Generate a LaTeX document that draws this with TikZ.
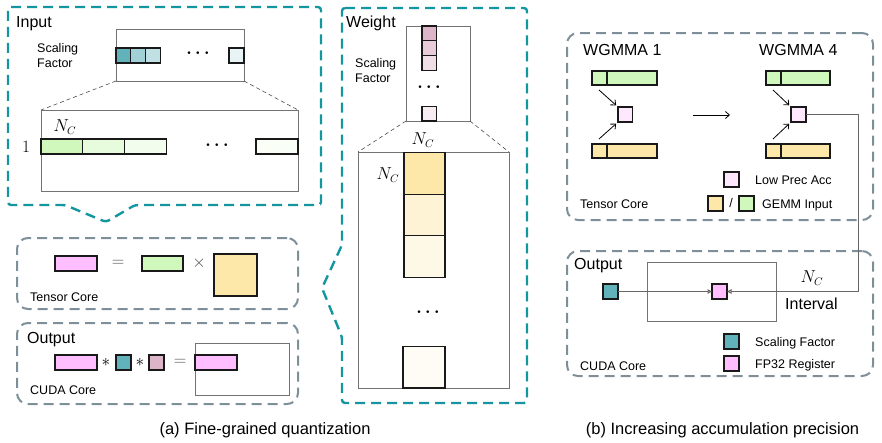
\documentclass[tikz,border=0pt]{standalone}
\usepackage[no-math]{fontspec}
\setmainfont{Liberation Sans}
\usepackage{tikz}
\usepackage{xcolor}
\usetikzlibrary{arrows.meta}

\definecolor{qteal}{RGB}{20,150,160}
\definecolor{qgray}{RGB}{125,143,153}
\definecolor{sfteal}{RGB}{98,178,187}
\definecolor{fppink}{RGB}{255,190,255}
\definecolor{lppink}{RGB}{253,232,253}
\definecolor{gemgreen}{RGB}{208,247,188}
\definecolor{gemyellow}{RGB}{253,232,170}
\definecolor{wmauve}{RGB}{221,181,201}

\tikzset{
	cell/.style={draw=black!90, line width=1.1pt, fill=#1, inner sep=0pt, outer sep=0pt, anchor=north west},
	frame/.style={draw=black!55, line width=0.9pt, inner sep=0pt, outer sep=0pt, anchor=north west},
	qbox/.style={draw=qteal, line width=2.4pt, dash pattern=on 10pt off 6pt, rounded corners=3pt},
	corebox/.style={draw=qgray, line width=2pt, dash pattern=on 10pt off 6pt, rounded corners=11pt, inner sep=0pt, outer sep=0pt, anchor=north west},
	zoomline/.style={draw=black!70, line width=0.6pt, dash pattern=on 4pt off 3pt},
	lbl/.style={font=\fontsize{16}{19}\selectfont, inner sep=0pt, anchor=base west},
	small/.style={font=\fontsize{12.5}{15}\selectfont, inner sep=0pt, anchor=base west},
	mathlbl/.style={font=\fontsize{16}{19}\selectfont, inner sep=0pt},
	dots/.style={font=\fontsize{16}{19}\selectfont\boldmath, inner sep=0pt},
	oplbl/.style={font=\fontsize{16}{19}\selectfont, inner sep=0pt, text=black!70},
	flow/.style={draw=black, line width=0.8pt, -{Straight Barb[length=4pt, width=7pt]}},
	feed/.style={draw=black!60, line width=1pt, -{Triangle[open, length=4.5pt, width=4.5pt]}}
}

\begin{document}
\begin{tikzpicture}[x=1pt,y=-1pt]
	\useasboundingbox (0,0) rectangle (882,442);

	\draw[qbox] (8,7) -- (321,7) -- (321,205) -- (135,205) -- (106,222) -- (65,205) -- (8,205) -- cycle;
	\node[lbl] (intitle) at (16,27) {Input};
	\node[frame, minimum width=128pt, minimum height=52pt] (isf) at (116,29) {};
	\node[small, anchor=west, align=left] (isflbl) at (37,55.5) {Scaling\\Factor};
	\node[cell=sfteal, minimum width=14.7pt, minimum height=15pt] (isf1) at (116,48) {};
	\node[cell=sfteal!60, minimum width=14.7pt, minimum height=15pt] (isf2) at (isf1.north east) {};
	\node[cell=sfteal!40, minimum width=14.7pt, minimum height=15pt] (isf3) at (isf2.north east) {};
	\node[cell=sfteal!15, minimum width=15pt, minimum height=15pt] (isf4) at (229,48) {};
	\node[dots] (isfdots) at (198,53) {$\cdots$};
	\node[frame, minimum width=257pt, minimum height=81pt] (ibig) at (41,110) {};
	\draw[zoomline] (isf.south west) -- (ibig.north west);
	\draw[zoomline] (isf.south east) -- (ibig.north east);
	\node[cell=gemgreen, minimum width=41.7pt, minimum height=15pt] (ig1) at (41,139) {};
	\node[cell=gemgreen!50, minimum width=41.7pt, minimum height=15pt] (ig2) at (ig1.north east) {};
	\node[cell=gemgreen!25, minimum width=41.7pt, minimum height=15pt] (ig3) at (ig2.north east) {};
	\node[cell=gemgreen!12, minimum width=42pt, minimum height=15pt] (ig4) at (256,139) {};
	\node[mathlbl, font=\fontsize{17}{19}\selectfont] (irow) at (26,146.5) {$1$};
	\node[mathlbl] (inc) at (65,127) {$N_C$};
	\node[dots] (igdots) at (217,145) {$\cdots$};

	\node[corebox, minimum width=281pt, minimum height=71pt] (tca) at (17,238) {};
	\node[cell=fppink, minimum width=42pt, minimum height=15pt] (tcaout) at (55,256) {};
	\node[oplbl] (tcaeq) at (118,263.5) {$=$};
	\node[cell=gemgreen, minimum width=41pt, minimum height=15pt] (tcain) at (142,256) {};
	\node[oplbl] (tcatimes) at (199,263.5) {$\times$};
	\node[cell=gemyellow, minimum width=43pt, minimum height=42pt] (tcaw) at (214,254) {};
	\node[small] (tcalbl) at (30,301.5) {Tensor Core};

	\node[corebox, minimum width=281pt, minimum height=81pt] (oa) at (17,323) {};
	\node[lbl] (oatitle) at (27,343) {Output};
	\node[cell=fppink, minimum width=42pt, minimum height=15pt] (oap) at (55,355) {};
	\node[mathlbl] (oast1) at (106,362.5) {$\ast$};
	\node[cell=sfteal, minimum width=15pt, minimum height=15pt] (oas) at (116,355) {};
	\node[mathlbl] (oast2) at (140,362.5) {$\ast$};
	\node[cell=wmauve, minimum width=15pt, minimum height=15pt] (oaw) at (149,355) {};
	\node[oplbl] (oaeq) at (180,362.5) {$=$};
	\node[frame, minimum width=94pt, minimum height=52pt] (oares) at (195,343) {};
	\node[cell=fppink, minimum width=42pt, minimum height=15pt] (oarp) at (195,355) {};
	\node[small] (oalbl) at (30,394.5) {CUDA Core};

	\draw[qbox] (342,8) -- (527,8) -- (527,403) -- (342,403) -- (342,337) -- (322,288) -- (342,245) -- cycle;
	\node[lbl] (wtitle) at (346,27) {Weight};
	\node[frame, minimum width=64pt, minimum height=95pt] (wsf) at (406,26) {};
	\node[small, anchor=west, align=left] (wsflbl) at (355,70.5) {Scaling\\Factor};
	\node[cell=wmauve, minimum width=14.5pt, minimum height=14.7pt] (wsf1) at (422,26) {};
	\node[cell=wmauve!70, minimum width=14.5pt, minimum height=14.7pt] (wsf2) at (wsf1.south west) {};
	\node[cell=wmauve!45, minimum width=14.5pt, minimum height=14.7pt] (wsf3) at (wsf2.south west) {};
	\node[cell=wmauve!25, minimum width=14.5pt, minimum height=14.7pt] (wsf4) at (422,106.3) {};
	\node[dots] (wsfdots) at (429,87) {$\cdots$};
	\node[frame, minimum width=151pt, minimum height=236pt] (wbig) at (358,152) {};
	\draw[zoomline] (wsf.south west) -- (wbig.north west);
	\draw[zoomline] (wsf.south east) -- (wbig.north east);
	\node[cell=gemyellow, minimum width=41pt, minimum height=41.7pt] (wy1) at (404,152.5) {};
	\node[cell=gemyellow!50, minimum width=41pt, minimum height=41.7pt] (wy2) at (wy1.south west) {};
	\node[cell=gemyellow!30, minimum width=41pt, minimum height=41.7pt] (wy3) at (wy2.south west) {};
	\node[cell=gemyellow!12, minimum width=42pt, minimum height=41.5pt] (wy4) at (403,346.5) {};
	\node[mathlbl] (wnctop) at (423,140) {$N_C$};
	\node[mathlbl] (wncleft) at (388,175) {$N_C$};
	\node[dots] (wydots) at (428,312) {$\cdots$};

	\node[corebox, minimum width=306pt, minimum height=187pt] (tcb) at (567,33) {};
	\node[lbl] (wg1) at (583,55) {WGMMA 1};
	\node[lbl] (wg4) at (759,55) {WGMMA 4};
	\node[cell=gemgreen, minimum width=15pt, minimum height=14pt] (g1a) at (592,71) {};
	\node[cell=gemgreen, minimum width=50pt, minimum height=14pt] (g1b) at (g1a.north east) {};
	\node[cell=gemyellow, minimum width=15pt, minimum height=14pt] (y1a) at (592,144) {};
	\node[cell=gemyellow, minimum width=50pt, minimum height=14pt] (y1b) at (y1a.north east) {};
	\node[cell=lppink, minimum width=14.5pt, minimum height=15pt] (p1) at (618,107) {};
	\coordinate (a1top) at (599,90);
	\coordinate (a1bot) at (599,139);
	\draw[flow, shorten >=2.5pt] (a1top) -- (p1.north west);
	\draw[flow, shorten >=2.5pt] (a1bot) -- (p1.south west);
	\coordinate (stepfrom) at (693,115);
	\coordinate (stepto) at (730,115);
	\draw[flow] (stepfrom) -- (stepto);
	\node[cell=gemgreen, minimum width=15pt, minimum height=14pt] (g4a) at (766,71) {};
	\node[cell=gemgreen, minimum width=49pt, minimum height=14pt] (g4b) at (g4a.north east) {};
	\node[cell=gemyellow, minimum width=15pt, minimum height=14pt] (y4a) at (766,144) {};
	\node[cell=gemyellow, minimum width=49pt, minimum height=14pt] (y4b) at (y4a.north east) {};
	\node[cell=lppink, minimum width=15pt, minimum height=15pt] (p4) at (791,107) {};
	\coordinate (a4top) at (773,90);
	\coordinate (a4bot) at (773,139);
	\draw[flow, shorten >=2.5pt] (a4top) -- (p4.north west);
	\draw[flow, shorten >=2.5pt] (a4bot) -- (p4.south west);
	\node[cell=lppink, minimum width=15pt, minimum height=15pt] (lgacc) at (724,172) {};
	\node[small] (lgacclbl) at (755,184) {Low Prec Acc};
	\node[cell=gemyellow, minimum width=15pt, minimum height=15pt] (lgy) at (708,196) {};
	\node[small, anchor=center] (lgslash) at (731,203) {/};
	\node[cell=gemgreen, minimum width=15pt, minimum height=15pt] (lgg) at (739,196) {};
	\node[small] (lgglbl) at (762,208.5) {GEMM Input};
	\node[small] (tcblbl) at (580,208.5) {Tensor Core};

	\node[corebox, minimum width=306pt, minimum height=125pt] (ob) at (567,251) {};
	\node[lbl] (obtitle) at (574,269) {Output};
	\node[frame, minimum width=129pt, minimum height=59pt] (obwin) at (647,262) {};
	\node[cell=sfteal, minimum width=15pt, minimum height=15pt] (obsf) at (603,284) {};
	\node[cell=fppink, minimum width=15pt, minimum height=15pt] (obfp) at (712,284) {};
	\draw[feed] (obsf.east) -- (obfp.west);
	\draw[feed] (p4.east) -- ++(52,0) |- (obfp.east);
	\node[mathlbl] (obnc) at (812,278) {$N_C$};
	\node[lbl] (obint) at (785,309) {Interval};
	\node[cell=sfteal, minimum width=15pt, minimum height=15pt] (lgsf) at (724,334) {};
	\node[small] (lgsflbl) at (755,346) {Scaling Factor};
	\node[cell=fppink, minimum width=15pt, minimum height=15pt] (lgfp) at (724,356) {};
	\node[small] (lgfplbl) at (755,368) {FP32 Register};
	\node[small] (oblbl) at (580,370) {CUDA Core};

	\node[lbl, font=\fontsize{16.5}{19}\selectfont, anchor=base] (capa) at (265,434) {(a) Fine-grained quantization};
	\node[lbl, font=\fontsize{16.5}{19}\selectfont, anchor=base] (capb) at (722.5,434) {(b) Increasing accumulation precision};
\end{tikzpicture}
\end{document}
